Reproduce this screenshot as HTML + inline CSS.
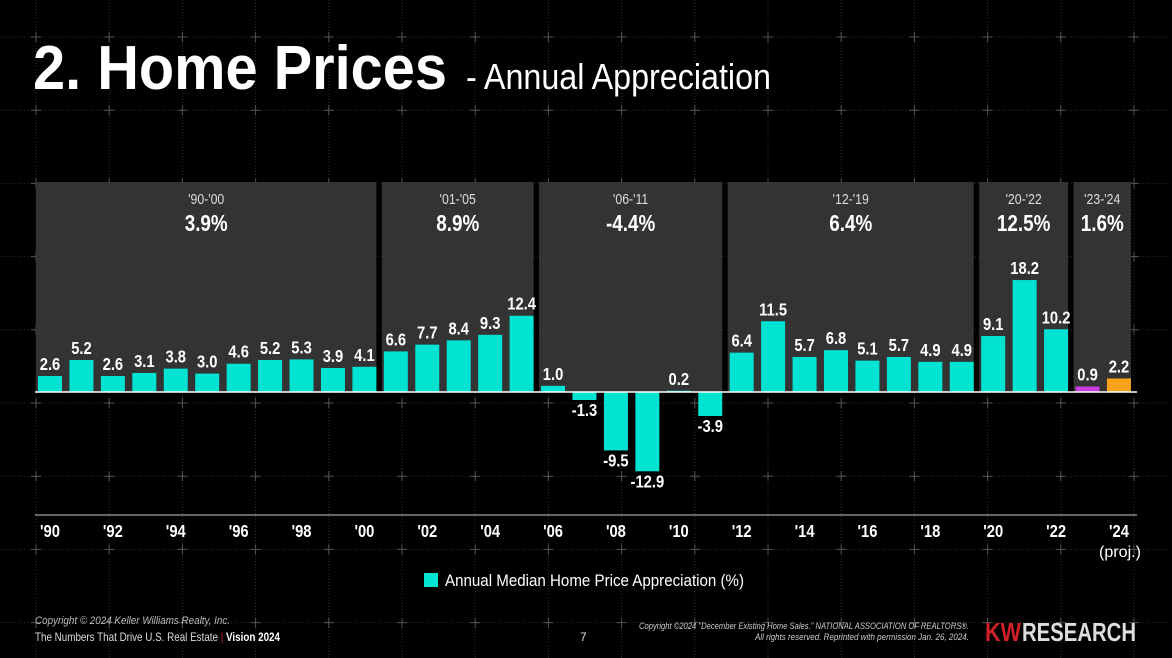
<!DOCTYPE html>
<html><head><meta charset="utf-8"><style>
html,body{margin:0;padding:0;background:#000;}
svg{display:block;font-family:"Liberation Sans Narrow","Liberation Sans",sans-serif;}
</style></head><body>
<svg id="chart" width="1172" height="658" viewBox="0 0 1172 658" xmlns="http://www.w3.org/2000/svg">
<rect width="1172" height="658" fill="#000"/>
<g id="grid"></g>
<text x="33" y="89" font-size="62" font-weight="bold" fill="#fff" textLength="414" lengthAdjust="spacingAndGlyphs">2. Home Prices</text>
<text x="466" y="89" font-size="36" fill="#fff" textLength="305" lengthAdjust="spacingAndGlyphs">- Annual Appreciation</text>
<g id="panels"></g>
<g id="bars"></g>
<line x1="35" y1="392" x2="1137" y2="392" stroke="#fff" stroke-width="1.5"/>
<line x1="35" y1="515" x2="1137" y2="515" stroke="#ccc" stroke-width="1"/>
<g id="xticks"></g>
<text x="1120" y="557" font-size="16" fill="#fff" text-anchor="middle" textLength="42" lengthAdjust="spacingAndGlyphs">(proj.)</text>
<g>
<rect x="424" y="573" width="14" height="14" fill="#00e3d3"/>
<text x="445" y="586" font-size="17" fill="#fff" textLength="299" lengthAdjust="spacingAndGlyphs">Annual Median Home Price Appreciation (%)</text>
</g>
<g>
<text x="35" y="624" font-size="11" font-style="italic" fill="#bbb" textLength="195" lengthAdjust="spacingAndGlyphs">Copyright © 2024 Keller Williams Realty, Inc.</text>
<text x="35" y="641" font-size="12" fill="#ddd" textLength="245" lengthAdjust="spacingAndGlyphs">The Numbers That Drive U.S. Real Estate <tspan fill="#d0202a">|</tspan> <tspan font-weight="bold" fill="#fff">Vision 2024</tspan></text>
<text x="580" y="641" font-size="12" fill="#ddd">7</text>
<text x="969" y="629" font-size="9" font-style="italic" fill="#ccc" text-anchor="end" textLength="330" lengthAdjust="spacingAndGlyphs">Copyright ©2024 "December Existing Home Sales." NATIONAL ASSOCIATION OF REALTORS®.</text>
<text x="969" y="640" font-size="9" font-style="italic" fill="#ccc" text-anchor="end" textLength="214" lengthAdjust="spacingAndGlyphs">All rights reserved. Reprinted with permission Jan. 26, 2024.</text>
<text x="985" y="641" font-size="26" font-weight="bold" fill="#d0202a" textLength="36" lengthAdjust="spacingAndGlyphs">KW</text>
<text x="1022" y="641" font-size="26" font-weight="bold" fill="#ddd" textLength="114" lengthAdjust="spacingAndGlyphs">RESEARCH</text>
</g>
</svg>
<script>
const years = [1990,1991,1992,1993,1994,1995,1996,1997,1998,1999,2000,2001,2002,2003,2004,2005,2006,2007,2008,2009,2010,2011,2012,2013,2014,2015,2016,2017,2018,2019,2020,2021,2022,2023,2024];
const values = [2.6,5.2,2.6,3.1,3.8,3.0,4.6,5.2,5.3,3.9,4.1,6.6,7.7,8.4,9.3,12.4,1.0,-1.3,-9.5,-12.9,0.2,-3.9,6.4,11.5,5.7,6.8,5.1,5.7,4.9,4.9,9.1,18.2,10.2,0.9,2.2];
const tickYears = [1990,1992,1994,1996,1998,2000,2002,2004,2006,2008,2010,2012,2014,2016,2018,2020,2022,2024];
const periodLabels = ["'90-'00","'01-'05","'06-'11","'12-'19","'20-'22","'23-'24"];
const periodAverages = ["3.9%","8.9%","-4.4%","6.4%","12.5%","1.6%"];
const periodStart = [1990,2001,2006,2012,2020,2023];
const periodEnd = [2000,2005,2011,2019,2022,2024];

const NS="http://www.w3.org/2000/svg";
function mk(tag,attrs,parent){const e=document.createElementNS(NS,tag);for(const k in attrs)e.setAttribute(k,attrs[k]);parent.appendChild(e);return e;}
const xC = y => 50 + (y-1990)*31.44;
const yV = v => 392 - v*6.15;
const BW = 24;
const SX = 0.82;

// grid
const grid=document.getElementById('grid');
for(let x=36;x<1172;x+=73.2){const l=mk('line',{x1:x,y1:0,x2:x,y2:658,stroke:'#2c2c2c','stroke-dasharray':'1 2','stroke-width':1},grid);

}
for(let y=37;y<658;y+=73.2){const l=mk('line',{x1:0,y1:y,x2:1172,y2:y,stroke:'#2c2c2c','stroke-dasharray':'1 2','stroke-width':1},grid);

}
for(let x=36;x<1172;x+=73.2)for(let y=37;y<658;y+=73.2){const p=mk('path',{d:`M${x-5} ${y}H${x+5}M${x} ${y-5}V${y+5}`,stroke:'#555','stroke-width':1},grid);

}

function label(parent,x,y,size,bold,fill,txt){
  const t=mk('text',{x:0,y:0,transform:`translate(${x},${y}) scale(${SX},1)`,'font-size':size,fill,'text-anchor':'middle'},parent);
  if(bold)t.setAttribute('font-weight','bold');
  t.textContent=txt;return t;
}

// panels
const panels=document.getElementById('panels');
periodLabels.forEach((lab,i)=>{
  const x1=xC(periodStart[i])-14, x2=xC(periodEnd[i])+12;
  const r=mk('rect',{x:x1,y:182,width:x2-x1,height:210,fill:'#333'},panels);
  
  
  const cx=(x1+x2)/2;
  const t=label(panels,cx,204,15,false,'#ddd',lab);
  
  
  const a=label(panels,cx,231,23,true,'#fff',periodAverages[i]);
  
  
});

// bars
const bars=document.getElementById('bars');
years.forEach((yr,i)=>{
  const v=values[i], c=xC(yr);
  const top=Math.min(yV(v),392), h=Math.abs(yV(v)-392);
  const fill = yr===2023?'#c83ee0':(yr===2024?'#f7a21b':'#00e3d3');
  const r=mk('rect',{x:c-BW/2,y:top,width:BW,height:Math.max(h,1),fill},bars);
  
  
  const ly = v>=0 ? yV(v)-6 : yV(v)+16;
  const t=label(bars,c,ly,18,true,'#fff',v.toFixed(1));
  
  
});

// x ticks
const xt=document.getElementById('xticks');
tickYears.forEach(yr=>{
  const t=label(xt,xC(yr),537,18,true,'#fff',"'"+String(yr).slice(2));
  
  
});
</script>
</body></html>
